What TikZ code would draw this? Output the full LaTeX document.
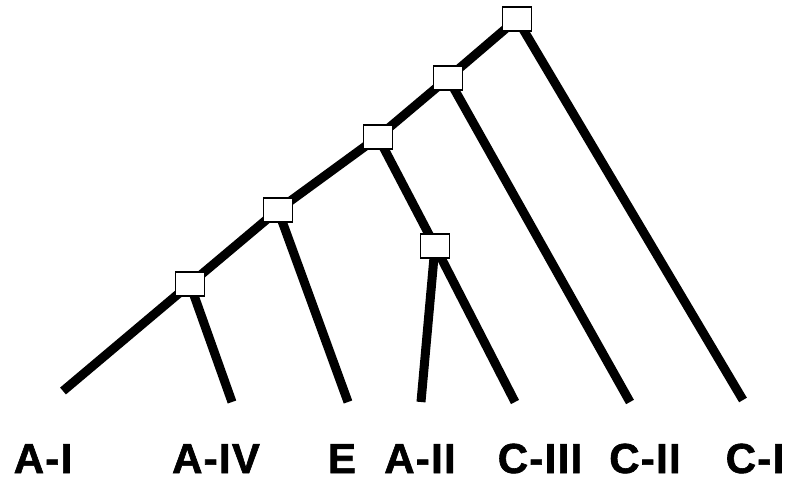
\documentclass[tikz,border=0pt]{standalone}
\usepackage{fontspec}
\setmainfont{Liberation Sans}
\newfontfamily\labelfont[BoldFont={* Bold},BoldFeatures={FakeBold=1.5,LetterSpace=3}]{Liberation Sans}
\begin{document}
\begin{tikzpicture}[x=1pt,y=-1pt,
  branch/.style={line width=9pt,line cap=butt},
  joint/.style={draw=black,fill=white,line width=1.8pt,minimum width=29pt,minimum height=24pt,inner sep=0pt},
  taxon/.style={font=\labelfont\fontsize{42}{42}\selectfont\bfseries,anchor=base,inner sep=0pt}]
\useasboundingbox (0,0) rectangle (788,482);
% internal nodes
\coordinate (n1) at (517,19);
\coordinate (n2) at (448,78);
\coordinate (n3) at (378,137);
\coordinate (n4) at (278,210);
\coordinate (n5) at (190,284);
\coordinate (n6) at (435,246);
% leaf ends
\coordinate (lAI) at (63,391);
\coordinate (lAIV) at (232,402);
\coordinate (lE) at (348,402);
\coordinate (lAII) at (421,402);
\coordinate (lCIII) at (515,402);
\coordinate (lCII) at (630,402);
\coordinate (lCI) at (743,400);
% branches
\draw[branch] (n1) -- (n2) -- (n3) -- (n4) -- (n5) -- (lAI);
\draw[branch] (n5) -- (lAIV);
\draw[branch] (n4) -- (lE);
\draw[branch] (n3) -- (n6) -- (lAII);
\draw[branch] (n6) -- (lCIII);
\draw[branch] (n2) -- (lCII);
\draw[branch] (n1) -- (lCI);
% node boxes
\foreach \n in {n1,n2,n3,n4,n5,n6}
  \node[joint] (b\n) at (\n) {};
% labels
\node[taxon] (tAI) at (43,473) {A-I};
\node[taxon] (tAIV) at (216,473) {A-IV};
\node[taxon] (tE) at (342,473) {E};
\node[taxon] (tAII) at (420,473) {A-II};
\node[taxon] (tCIII) at (540,473) {C-III};
\node[taxon] (tCII) at (645,473) {C-II};
\node[taxon] (tCI) at (755,473) {C-I};
\end{tikzpicture}
\end{document}
